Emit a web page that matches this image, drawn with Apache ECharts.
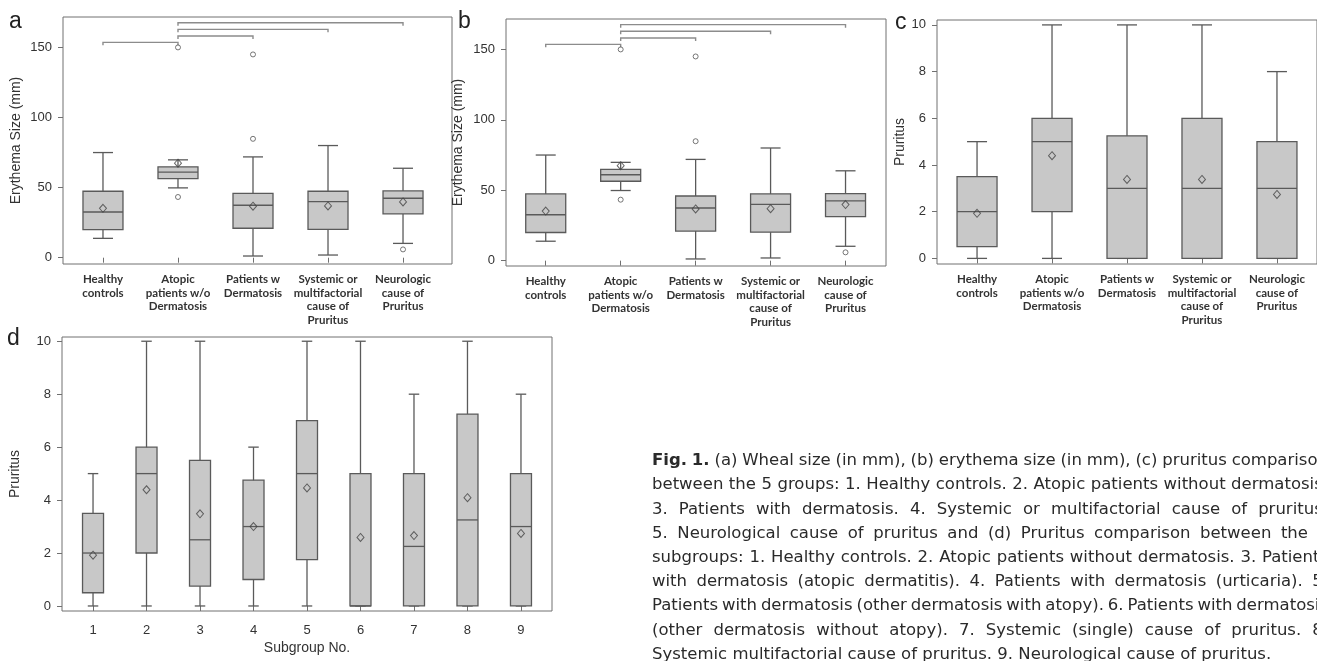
<!DOCTYPE html>
<html lang="en">
<head>
<meta charset="utf-8"/>
<title>Erythema size and pruritus by group</title>
<script src="https://cdn.jsdelivr.net/npm/echarts@6/dist/echarts.min.js"></script>
<style>
    html, body { margin: 0; padding: 0; background: #fff; }
    #main { width: 1317px; height: 661px; }
</style>
</head>
<body>
<div id="main"></div>
<script>
// group labels (panels a-c) and subgroup numbers (panel d)
const groupLabels = ['Healthy\ncontrols', 'Atopic\npatients w/o\nDermatosis', 'Patients w\nDermatosis',
    'Systemic or\nmultifactorial\ncause of\nPruritus', 'Neurologic\ncause of\nPruritus'];
const subgroupNo = ['1', '2', '3', '4', '5', '6', '7', '8', '9'];
const erythemaTicks = [0, 50, 100, 150];
const pruritusTicks = [0, 2, 4, 6, 8, 10];

// erythema size (mm), panels a and b
const erythemaLow = [13.8, 49.8, 1.2, 1.9, 10.2];
const erythemaQ1 = [20, 56.4, 21, 20.2, 31.2];
const erythemaMedian = [32.6, 61, 37.4, 40, 42.4];
const erythemaQ3 = [47.4, 64.8, 45.9, 47.4, 47.6];
const erythemaHigh = [75, 69.8, 71.9, 80, 63.8];
const erythemaMean = [35.2, 67.4, 36.7, 36.9, 39.8];
const erythemaOutliers = [[2, 150], [2, 43.3], [3, 145], [3, 84.8], [5, 5.9]];
// [from group, to group, height]
const erythemaBrackets = [[1, 2, 153.6], [2, 3, 158.1], [2, 4, 162.9], [2, 5, 167.6]];

// pruritus by group, panel c
const pruritusLow = [0, 0, 0, 0, 0];
const pruritusQ1 = [0.5, 2, 0, 0, 0];
const pruritusMedian = [2, 5, 3, 3, 3];
const pruritusQ3 = [3.5, 6, 5.25, 6, 5];
const pruritusHigh = [5, 10, 10, 10, 8];
const pruritusMean = [1.93, 4.4, 3.38, 3.38, 2.74];

// pruritus by subgroup, panel d
const subLow = [0, 0, 0, 0, 0, 0, 0, 0, 0];
const subQ1 = [0.5, 2, 0.75, 1, 1.75, 0, 0, 0, 0];
const subMedian = [2, 5, 2.5, 3, 5, 0, 2.25, 3.25, 3];
const subQ3 = [3.5, 6, 5.5, 4.75, 7, 5, 5, 7.25, 5];
const subHigh = [5, 10, 10, 6, 10, 10, 8, 10, 8];
const subMean = [1.92, 4.39, 3.48, 3.0, 4.46, 2.59, 2.66, 4.09, 2.74];

const captionLines = [
    'Fig. 1. (a) Wheal size (in mm), (b) erythema size (in mm), (c) pruritus comparison',
    'between the 5 groups: 1. Healthy controls. 2. Atopic patients without dermatosis.',
    '3. Patients with dermatosis. 4. Systemic or multifactorial cause of pruritus.',
    '5. Neurological cause of pruritus and (d) Pruritus comparison between the 9',
    'subgroups: 1. Healthy controls. 2. Atopic patients without dermatosis. 3. Patients',
    'with dermatosis (atopic dermatitis). 4. Patients with dermatosis (urticaria). 5.',
    'Patients with dermatosis (other dermatosis with atopy). 6. Patients with dermatosis',
    '(other dermatosis without atopy). 7. Systemic (single) cause of pruritus. 8.',
    'Systemic multifactorial cause of pruritus. 9. Neurological cause of pruritus.'
];

const lineColor = '#5a5a5a';
const frameColor = '#707070';
const boxFill = '#c8c8c8';
const textColor = '#333';
const sansFont = '"Liberation Sans", Arial, sans-serif';

function boxData(low, q1, med, q3, high) {
    return low.map((v, i) => [i + 1, v, q1[i], med[i], q3[i], high[i]]);
}
function pointData(vals) {
    return vals.map((v, i) => [i + 1, v]);
}

function renderBox(boxWidth) {
    return function (params, api) {
        const x = api.value(0);
        const low = api.coord([x, api.value(1)]);
        const q1 = api.coord([x, api.value(2)]);
        const med = api.coord([x, api.value(3)]);
        const q3 = api.coord([x, api.value(4)]);
        const high = api.coord([x, api.value(5)]);
        const cx = low[0], half = boxWidth / 2, cap = boxWidth / 4;
        const ln = { stroke: lineColor, lineWidth: 1.3 };
        return {
            type: 'group',
            children: [
                { type: 'line', shape: { x1: cx, y1: high[1], x2: cx, y2: low[1] }, style: ln },
                { type: 'line', shape: { x1: cx - cap, y1: high[1], x2: cx + cap, y2: high[1] }, style: ln },
                { type: 'line', shape: { x1: cx - cap, y1: low[1], x2: cx + cap, y2: low[1] }, style: ln },
                { type: 'rect', shape: { x: cx - half, y: q3[1], width: boxWidth, height: q1[1] - q3[1] },
                  style: { fill: boxFill, stroke: lineColor, lineWidth: 1.3 } },
                { type: 'line', shape: { x1: cx - half, y1: med[1], x2: cx + half, y2: med[1] }, style: ln }
            ]
        };
    };
}

function renderBracket(params, api) {
    const a = api.coord([api.value(0), api.value(2)]);
    const b = api.coord([api.value(1), api.value(2)]);
    return {
        type: 'polyline',
        shape: { points: [[a[0], a[1] + 3], a, b, [b[0], b[1] + 3]] },
        style: { stroke: '#8c8c8c', lineWidth: 1.4, fill: null }
    };
}

const panels = [
    { grid: { left: 63, top: 17, width: 389, height: 247 }, x: [0.467, 5.653], y: [-4.5, 171.7],
      yTicks: erythemaTicks, yName: 'Erythema Size (mm)', nameGap: 40, labels: groupLabels, boxWidth: 40,
      box: boxData(erythemaLow, erythemaQ1, erythemaMedian, erythemaQ3, erythemaHigh),
      mean: pointData(erythemaMean), outliers: erythemaOutliers, brackets: erythemaBrackets },
    { grid: { left: 506, top: 19, width: 380, height: 247 }, x: [0.47, 5.54], y: [-3.8, 171.6],
      yTicks: erythemaTicks, yName: 'Erythema Size (mm)', nameGap: 41, labels: groupLabels, boxWidth: 40,
      box: boxData(erythemaLow, erythemaQ1, erythemaMedian, erythemaQ3, erythemaHigh),
      mean: pointData(erythemaMean), outliers: erythemaOutliers, brackets: erythemaBrackets },
    { grid: { left: 937, top: 20, width: 389, height: 244 }, x: [0.466, 5.534], y: [-0.24, 10.21],
      yTicks: pruritusTicks, yName: 'Pruritus', nameGap: 27, labels: groupLabels, boxWidth: 40,
      box: boxData(pruritusLow, pruritusQ1, pruritusMedian, pruritusQ3, pruritusHigh),
      mean: pointData(pruritusMean), outliers: [], brackets: [] },
    { grid: { left: 62, top: 337, width: 490, height: 274 }, x: [0.42, 9.58], y: [-0.19, 10.16],
      yTicks: pruritusTicks, yName: 'Pruritus', nameGap: 40, labels: subgroupNo, boxWidth: 21,
      box: boxData(subLow, subQ1, subMedian, subQ3, subHigh),
      mean: pointData(subMean), outliers: [], brackets: [], xName: 'Subgroup No.' }
];

const grids = [], xAxes = [], yAxes = [], series = [];
panels.forEach((p, i) => {
    const xTicks = p.labels.map((l, k) => k + 1);
    const small = p.labels === groupLabels;
    grids.push(Object.assign({ show: true, borderColor: frameColor, borderWidth: 1, containLabel: false }, p.grid));
    xAxes.push({
        type: 'value', gridIndex: i, min: p.x[0], max: p.x[1],
        axisLine: { show: false }, splitLine: { show: false },
        axisTick: { show: true, length: 5, customValues: xTicks, lineStyle: { color: frameColor } },
        axisLabel: {
            customValues: xTicks, margin: small ? 9 : 12,
            formatter: v => p.labels[Math.round(v) - 1],
            color: textColor,
            fontFamily: small ? 'Lato, sans-serif' : sansFont,
            fontWeight: small ? 'bold' : 'normal',
            fontSize: small ? 11.5 : 13, lineHeight: small ? 13.5 : 15
        },
        name: p.xName || '', nameLocation: 'middle', nameGap: 30,
        nameTextStyle: { fontSize: 14, color: textColor, fontFamily: sansFont }
    });
    yAxes.push({
        type: 'value', gridIndex: i, min: p.y[0], max: p.y[1],
        axisLine: { show: false }, splitLine: { show: false },
        axisTick: { show: true, length: 5, customValues: p.yTicks, lineStyle: { color: frameColor } },
        axisLabel: { customValues: p.yTicks, margin: 11, color: textColor, fontSize: 13, fontFamily: sansFont },
        name: p.yName, nameLocation: 'middle', nameRotate: 90, nameGap: p.nameGap,
        nameTextStyle: { fontSize: 14, color: textColor, fontFamily: sansFont }
    });
    series.push({
        type: 'custom', xAxisIndex: i, yAxisIndex: i, z: 2,
        renderItem: renderBox(p.boxWidth), encode: { x: 0, y: [1, 2, 3, 4, 5] }, data: p.box
    });
    series.push({
        type: 'scatter', xAxisIndex: i, yAxisIndex: i, z: 4, symbol: 'diamond', symbolSize: [7, 8],
        itemStyle: { color: 'rgba(0,0,0,0)', borderColor: '#444', borderWidth: 1 }, data: p.mean
    });
    if (p.outliers.length) {
        series.push({
            type: 'scatter', xAxisIndex: i, yAxisIndex: i, z: 4, symbol: 'circle', symbolSize: 5,
            itemStyle: { color: 'rgba(0,0,0,0)', borderColor: '#555', borderWidth: 1 }, data: p.outliers
        });
    }
    if (p.brackets.length) {
        series.push({
            type: 'custom', xAxisIndex: i, yAxisIndex: i, z: 3,
            renderItem: renderBracket, encode: { x: [0, 1], y: 2 }, data: p.brackets
        });
    }
});

// panel letters
const graphics = [['a', 9, 22], ['b', 458, 22], ['c', 895, 23], ['d', 7, 339]].map(l => ({
    type: 'text', x: l[1], y: l[2],
    style: { text: l[0], fontSize: 23, fontFamily: sansFont, fill: '#222', verticalAlign: 'middle' }
}));

// justified caption, one text per word
const captionLeft = 652, captionRight = 1328, captionTop = 461, captionStep = 24.2, captionSize = 16.5;
const ctx = document.createElement('canvas').getContext('2d');
function measure(word, bold) {
    ctx.font = (bold ? 'bold ' : '') + captionSize + 'px "DejaVu Sans"';
    return ctx.measureText(word).width;
}
captionLines.forEach((line, li) => {
    const words = line.split(' ');
    const bold = words.map((w, wi) => li === 0 && wi < 2);
    const widths = words.map((w, wi) => measure(w, bold[wi]));
    const total = widths.reduce((s, w) => s + w, 0);
    const last = li === captionLines.length - 1;
    const room = captionRight - captionLeft;
    let gap = last ? measure(' ', false) : (room - total) / (words.length - 1);
    let squeeze = 1;
    const minGap = 3.3;
    if (!last && gap < minGap) {
        gap = minGap;
        squeeze = (room - minGap * (words.length - 1)) / total;
    }
    let x = captionLeft;
    words.forEach((w, wi) => {
        graphics.push({
            type: 'text', x: x, y: captionTop + li * captionStep, scaleX: squeeze,
            style: { text: w, fontSize: captionSize, fontFamily: '"DejaVu Sans"',
                     fontWeight: bold[wi] ? 'bold' : 'normal', fill: '#2a2a2a', verticalAlign: 'middle' }
        });
        x += widths[wi] * squeeze + gap;
    });
});

const chart = echarts.init(document.getElementById('main'));
chart.setOption({
    animation: false,
    backgroundColor: '#fff',
    grid: grids,
    xAxis: xAxes,
    yAxis: yAxes,
    series: series,
    graphic: graphics
});
</script>
</body>
</html>
